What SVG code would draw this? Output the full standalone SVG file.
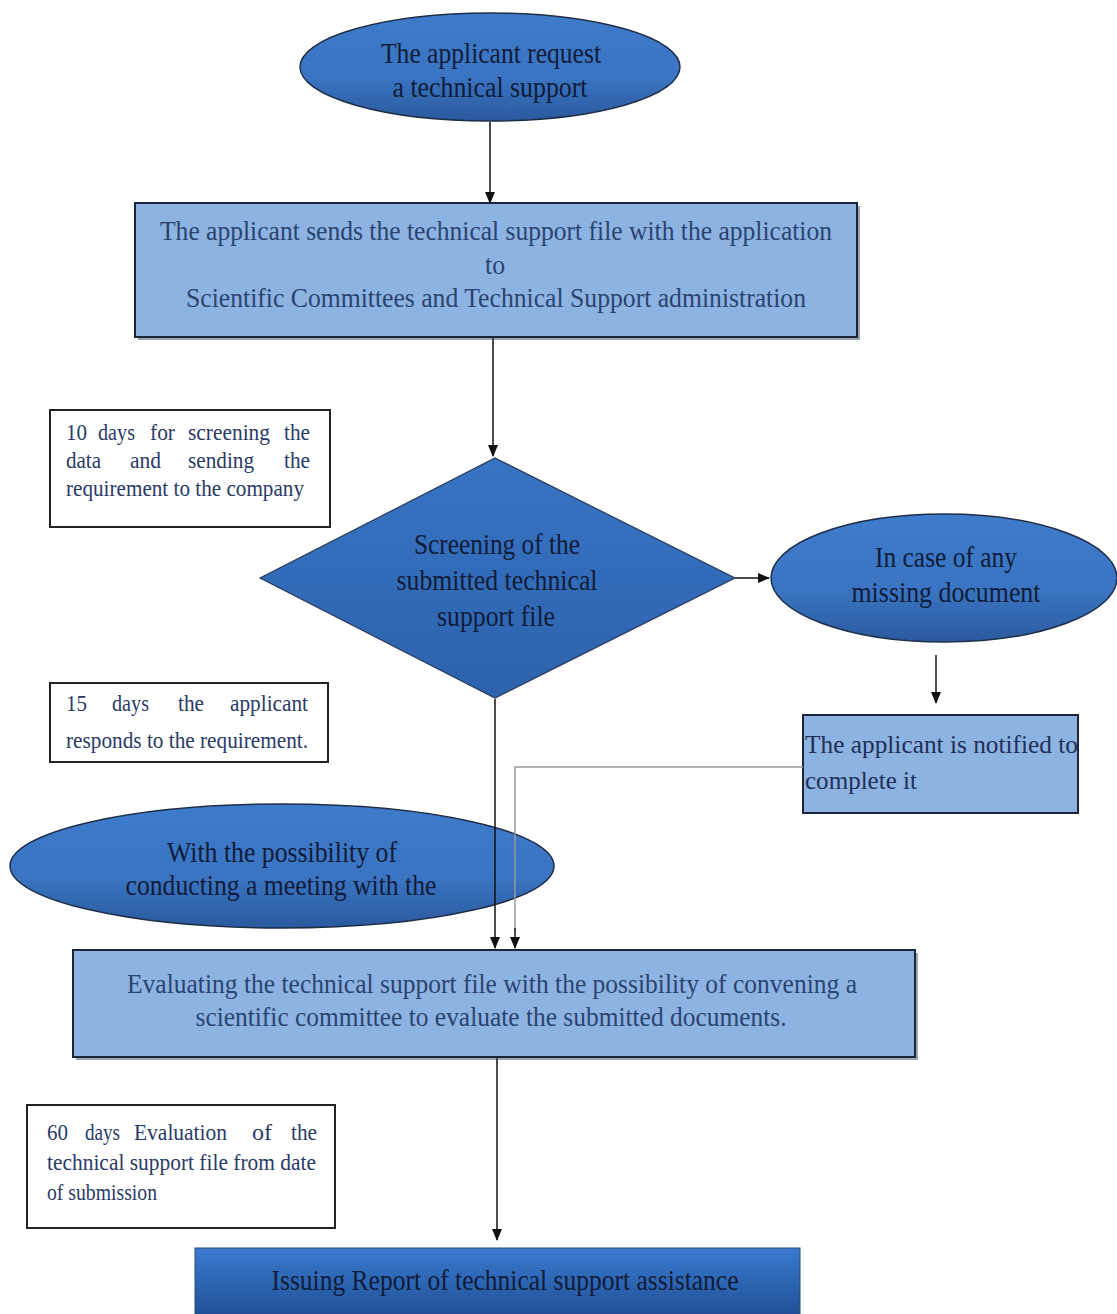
<svg xmlns="http://www.w3.org/2000/svg" width="1117" height="1314" viewBox="0 0 1117 1314">
<defs>
<linearGradient id="gEll" x1="0" y1="0" x2="0" y2="1">
<stop offset="0" stop-color="#3E7BCB"/>
<stop offset="0.6" stop-color="#3A74C2"/>
<stop offset="1" stop-color="#2A5A9E"/>
</linearGradient>
<linearGradient id="gDia" x1="0" y1="0" x2="0" y2="1">
<stop offset="0" stop-color="#3774C4"/>
<stop offset="1" stop-color="#2D62AD"/>
</linearGradient>
<linearGradient id="gBot" x1="0" y1="0" x2="0" y2="1">
<stop offset="0" stop-color="#3A7AD0"/>
<stop offset="1" stop-color="#1F4F94"/>
</linearGradient>
<marker id="ah" markerWidth="12" markerHeight="12" refX="11" refY="6" orient="auto" markerUnits="userSpaceOnUse">
<path d="M0,1 L12,6 L0,11 Z" fill="#111"/>
</marker>
</defs>
<style>
.ell{fill:url(#gEll);stroke:#1E2E48;stroke-width:1.5}
.box{fill:#8DB3E2;stroke:#1C2637;stroke-width:2}
.note{fill:#fff;stroke:#222;stroke-width:2}
.t{font-family:"Liberation Serif","Times New Roman",serif;font-size:28px;fill:#2A4470}
.td{font-family:"Liberation Serif","Times New Roman",serif;font-size:29px;fill:#101C38}
.tn{font-family:"Liberation Serif","Times New Roman",serif;font-size:24px;fill:#2A3A66}
.tc{font-family:"Liberation Serif","Times New Roman",serif;font-size:25px;fill:#1E3058}
.ln{stroke:#111;stroke-width:1.5;fill:none}
.lg{stroke:#999;stroke-width:1.5;fill:none}
</style>
<rect width="1117" height="1314" fill="#ffffff"/>

<g id="connectors">
<line class="ln" x1="490" y1="122" x2="490" y2="203" marker-end="url(#ah)"/>
<line class="ln" x1="493" y1="338" x2="493" y2="456" marker-end="url(#ah)"/>
<line class="ln" x1="735" y1="578" x2="769" y2="578" marker-end="url(#ah)"/>
<line class="ln" x1="936" y1="655" x2="936" y2="703" marker-end="url(#ah)"/>
<line class="ln" x1="497" y1="1058" x2="497" y2="1240" marker-end="url(#ah)"/>
</g>

<g id="n1">
<ellipse class="ell" cx="490" cy="67" rx="190" ry="54"/>
<text class="td" x="491" y="63" text-anchor="middle" textLength="220" lengthAdjust="spacingAndGlyphs">The applicant request</text>
<text class="td" x="490" y="97" text-anchor="middle" textLength="195" lengthAdjust="spacingAndGlyphs">a technical support</text>
</g>

<g id="n2">
<rect x="138" y="206" width="722" height="134" fill="#3A4A60" opacity="0.5"/>
<rect class="box" x="135" y="203" width="722" height="134"/>
<text class="t" x="496" y="240" text-anchor="middle" textLength="672" lengthAdjust="spacingAndGlyphs">The applicant sends the technical support file with the application</text>
<text class="t" x="495" y="274" text-anchor="middle" textLength="20" lengthAdjust="spacingAndGlyphs">to</text>
<text class="t" x="496" y="307" text-anchor="middle" textLength="620" lengthAdjust="spacingAndGlyphs">Scientific Committees and Technical Support administration</text>
</g>

<g id="note1">
<rect class="note" x="50" y="410" width="280" height="117"/>
<text class="tn" y="440"><tspan x="66" textLength="21" lengthAdjust="spacingAndGlyphs">10</tspan><tspan x="98" textLength="37" lengthAdjust="spacingAndGlyphs">days</tspan><tspan x="150" textLength="25" lengthAdjust="spacingAndGlyphs">for</tspan><tspan x="188" textLength="82" lengthAdjust="spacingAndGlyphs">screening</tspan><tspan x="284" textLength="26" lengthAdjust="spacingAndGlyphs">the</tspan></text>
<text class="tn" y="468"><tspan x="66" textLength="35" lengthAdjust="spacingAndGlyphs">data</tspan><tspan x="130" textLength="31" lengthAdjust="spacingAndGlyphs">and</tspan><tspan x="188" textLength="66" lengthAdjust="spacingAndGlyphs">sending</tspan><tspan x="284" textLength="26" lengthAdjust="spacingAndGlyphs">the</tspan></text>
<text class="tn" x="66" y="496" textLength="238" lengthAdjust="spacingAndGlyphs">requirement to the company</text>
</g>

<g id="n3">
<polygon points="495,458 735,578 495,698 260,578" fill="url(#gDia)" stroke="#2A3A55" stroke-width="1.2"/>
<text class="td" x="497" y="554" text-anchor="middle" textLength="166" lengthAdjust="spacingAndGlyphs">Screening of the</text>
<text class="td" x="497" y="590" text-anchor="middle" textLength="201" lengthAdjust="spacingAndGlyphs">submitted technical</text>
<text class="td" x="496" y="626" text-anchor="middle" textLength="118" lengthAdjust="spacingAndGlyphs">support file</text>
</g>

<g id="n4">
<ellipse class="ell" cx="944" cy="578" rx="173" ry="64"/>
<text class="td" x="946" y="567" text-anchor="middle" textLength="142" lengthAdjust="spacingAndGlyphs">In case of any</text>
<text class="td" x="946" y="602" text-anchor="middle" textLength="189" lengthAdjust="spacingAndGlyphs">missing document</text>
</g>

<g id="n5">
<rect class="box" x="803" y="715" width="275" height="98"/>
<text class="tc" x="805" y="753" textLength="273" lengthAdjust="spacingAndGlyphs">The applicant is notified to</text>
<text class="tc" x="805" y="789" textLength="112" lengthAdjust="spacingAndGlyphs">complete it</text>
</g>

<g id="note2">
<rect class="note" x="50" y="683" width="278" height="79"/>
<text class="tn" y="711"><tspan x="66" textLength="21" lengthAdjust="spacingAndGlyphs">15</tspan><tspan x="112" textLength="37" lengthAdjust="spacingAndGlyphs">days</tspan><tspan x="178" textLength="26" lengthAdjust="spacingAndGlyphs">the</tspan><tspan x="230" textLength="78" lengthAdjust="spacingAndGlyphs">applicant</tspan></text>
<text class="tn" x="66" y="748" textLength="242" lengthAdjust="spacingAndGlyphs">responds to the requirement.</text>
</g>

<g id="n6">
<ellipse class="ell" cx="282" cy="866" rx="272" ry="62"/>
<text class="td" x="282" y="862" text-anchor="middle" textLength="230" lengthAdjust="spacingAndGlyphs">With the possibility of</text>
<text class="td" x="281" y="895" text-anchor="middle" textLength="311" lengthAdjust="spacingAndGlyphs">conducting a meeting with the</text>
</g>

<g id="connectors2">
<line class="ln" x1="495" y1="699" x2="495" y2="948" marker-end="url(#ah)"/>
<polyline class="lg" points="803,767 515,767 515,930"/>
<line class="ln" x1="515" y1="928" x2="515" y2="948" marker-end="url(#ah)"/>
</g>

<g id="n7">
<rect x="76" y="953" width="842" height="107" fill="#3A4A60" opacity="0.5"/>
<rect class="box" x="73" y="950" width="842" height="107"/>
<text class="t" x="492" y="993" text-anchor="middle" textLength="730" lengthAdjust="spacingAndGlyphs">Evaluating the technical support file with the possibility of convening a</text>
<text class="t" x="491" y="1026" text-anchor="middle" textLength="591" lengthAdjust="spacingAndGlyphs">scientific committee to evaluate the submitted documents.</text>
</g>

<g id="note3">
<rect class="note" x="27" y="1105" width="308" height="123"/>
<text class="tn" y="1140"><tspan x="47" textLength="21" lengthAdjust="spacingAndGlyphs">60</tspan><tspan x="85" textLength="35" lengthAdjust="spacingAndGlyphs">days</tspan><tspan x="134" textLength="93" lengthAdjust="spacingAndGlyphs">Evaluation</tspan><tspan x="252" textLength="20" lengthAdjust="spacingAndGlyphs">of</tspan><tspan x="291" textLength="26" lengthAdjust="spacingAndGlyphs">the</tspan></text>
<text class="tn" x="47" y="1170" textLength="269" lengthAdjust="spacingAndGlyphs">technical support file from date</text>
<text class="tn" x="47" y="1200" textLength="110" lengthAdjust="spacingAndGlyphs">of submission</text>
</g>

<g id="n8">
<rect x="195" y="1248" width="605" height="70" fill="url(#gBot)" stroke="#2A4A7A" stroke-width="1"/>
<text class="td" x="505" y="1290" text-anchor="middle" textLength="467" lengthAdjust="spacingAndGlyphs">Issuing Report of technical support assistance</text>
</g>
</svg>
